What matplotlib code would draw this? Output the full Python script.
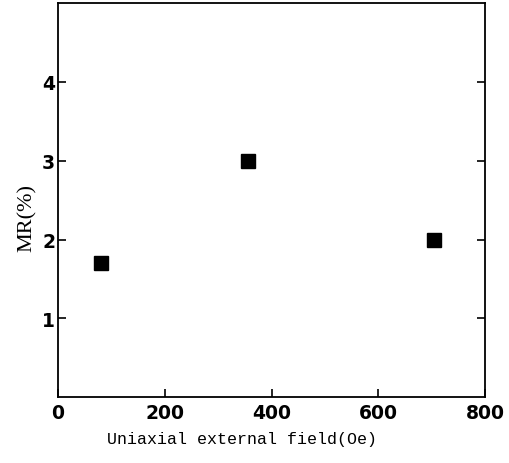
import matplotlib
matplotlib.use("Agg")
import matplotlib.pyplot as plt

field = [80, 355, 705]
mr = [1.7, 3.0, 2.0]
xticks = [0, 200, 400, 600, 800]
yticks = [1, 2, 3, 4]

fig = plt.figure(figsize=(5.09, 4.64), dpi=100)
ax = fig.add_axes([0.114, 0.142, 0.839, 0.849])
ax.plot(field, mr, linestyle='none', marker='s', markersize=10.5, color='black')
ax.set_xlim(0, 800)
ax.set_ylim(0, 5)
ax.set_xticks(xticks)
ax.set_yticks(yticks)
ax.set_xticklabels([str(v) for v in xticks], fontfamily='DejaVu Sans', fontweight='bold', fontsize=13.5)
ax.set_yticklabels([str(v) for v in yticks], fontfamily='DejaVu Sans', fontweight='bold', fontsize=13.5)
ax.tick_params(direction='in', length=6, width=1.2, right=True, top=False, pad=2)
ax.tick_params(axis='x', pad=4)
for s in ax.spines.values():
    s.set_linewidth(1.3)
ax.set_xlabel('Uniaxial external field(Oe)', fontfamily='Liberation Mono', fontsize=12)
ax.xaxis.set_label_coords(0.43, -0.085)
ax.set_ylabel('MR(%)', fontfamily='Liberation Serif', fontsize=16)
ax.yaxis.set_label_coords(-0.05, 0.457)
fig.savefig('out.png', dpi=100)
